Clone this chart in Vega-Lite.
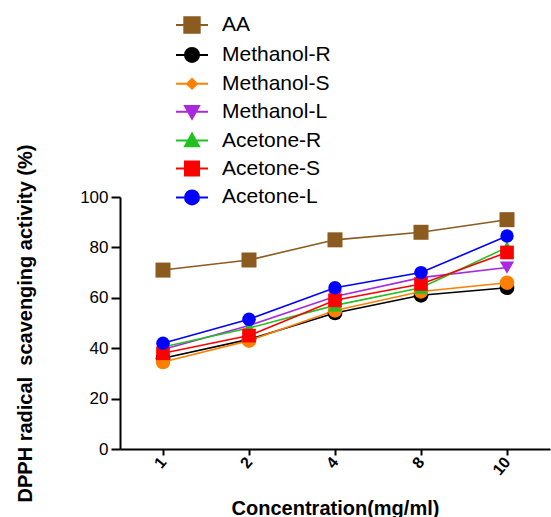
{
  "$schema": "https://vega.github.io/schema/vega-lite/v6.json",
  "width": 430,
  "height": 252,
  "autosize": "none",
  "padding": {"left": 120, "top": 197, "right": 1, "bottom": 68},
  "background": "white",
  "config": {
    "view": {"stroke": null},
    "font": "Liberation Sans",
    "axis": {
      "domainColor": "black", "domainWidth": 2, "tickColor": "black", "tickWidth": 2,
      "labelColor": "black", "titleColor": "black", "grid": false, "labelFont": "Liberation Sans", "titleFont": "Liberation Sans"
    },
    "legend": {"labelFont": "Liberation Sans"}
  },
  "data": {"values": [
    {"series": "AA", "conc": "1", "value": 71},
    {"series": "AA", "conc": "2", "value": 75},
    {"series": "AA", "conc": "4", "value": 83},
    {"series": "AA", "conc": "8", "value": 86},
    {"series": "AA", "conc": "10", "value": 91},
    {"series": "Methanol-R", "conc": "1", "value": 36},
    {"series": "Methanol-R", "conc": "2", "value": 43.5},
    {"series": "Methanol-R", "conc": "4", "value": 54},
    {"series": "Methanol-R", "conc": "8", "value": 61},
    {"series": "Methanol-R", "conc": "10", "value": 64},
    {"series": "Methanol-S", "conc": "1", "value": 34.5},
    {"series": "Methanol-S", "conc": "2", "value": 43},
    {"series": "Methanol-S", "conc": "4", "value": 55},
    {"series": "Methanol-S", "conc": "8", "value": 62.5},
    {"series": "Methanol-S", "conc": "10", "value": 66},
    {"series": "Methanol-L", "conc": "1", "value": 39.5},
    {"series": "Methanol-L", "conc": "2", "value": 49},
    {"series": "Methanol-L", "conc": "4", "value": 60.5},
    {"series": "Methanol-L", "conc": "8", "value": 68},
    {"series": "Methanol-L", "conc": "10", "value": 72},
    {"series": "Acetone-R", "conc": "1", "value": 40.5},
    {"series": "Acetone-R", "conc": "2", "value": 48},
    {"series": "Acetone-R", "conc": "4", "value": 57},
    {"series": "Acetone-R", "conc": "8", "value": 64},
    {"series": "Acetone-R", "conc": "10", "value": 80},
    {"series": "Acetone-S", "conc": "1", "value": 38},
    {"series": "Acetone-S", "conc": "2", "value": 45},
    {"series": "Acetone-S", "conc": "4", "value": 59},
    {"series": "Acetone-S", "conc": "8", "value": 65.5},
    {"series": "Acetone-S", "conc": "10", "value": 78},
    {"series": "Acetone-L", "conc": "1", "value": 42},
    {"series": "Acetone-L", "conc": "2", "value": 51.5},
    {"series": "Acetone-L", "conc": "4", "value": 64},
    {"series": "Acetone-L", "conc": "8", "value": 70},
    {"series": "Acetone-L", "conc": "10", "value": 84.5}
  ]},
  "encoding": {
    "x": {
      "field": "conc", "type": "ordinal",
      "scale": {"type": "point", "domain": ["1", "2", "4", "8", "10"], "padding": 0.5},
      "axis": {
        "title": "Concentration(mg/ml)", "titleFontSize": 20, "titleFontWeight": "bold",
        "titleX": 215, "titleY": 65, "titleBaseline": "alphabetic", "titleAlign": "center",
        "labelAngle": -50, "labelFontSize": 16, "labelFontWeight": "bold", "tickSize": 6, "labelPadding": 4
      }
    },
    "y": {
      "field": "value", "type": "quantitative",
      "scale": {"domain": [0, 100], "nice": false, "zero": true},
      "axis": {
        "title": "DPPH radical\u00a0 scavenging activity (%)", "titleFontSize": 20, "titleFontWeight": "bold",
        "titleAngle": -90, "titleX": -89, "titleY": 126, "titleBaseline": "alphabetic", "titleAlign": "center",
        "values": [0, 20, 40, 60, 80, 100], "labelFontSize": 17, "tickSize": 9, "labelPadding": 3
      }
    }
  },
  "layer": [
    {
      "mark": {"type": "line", "strokeWidth": 1.6},
      "encoding": {
        "color": {
          "field": "series", "type": "nominal", "legend": null,
          "scale": {
            "domain": ["AA", "Methanol-R", "Methanol-S", "Methanol-L", "Acetone-R", "Acetone-S", "Acetone-L"],
            "range": ["#8c5b1f", "#000000", "#ff8000", "#a829e0", "#22c022", "#ff0000", "#0000ff"]
          }
        }
      }
    },
    {
      "mark": {"type": "point", "filled": true, "opacity": 1},
      "encoding": {
        "fill": {
          "field": "series", "type": "nominal", "legend": null,
          "scale": {
            "domain": ["AA", "Methanol-R", "Methanol-S", "Methanol-L", "Acetone-R", "Acetone-S", "Acetone-L"],
            "range": ["#8c5b1f", "#000000", "#ff8000", "#a829e0", "#22c022", "#ff0000", "#0000ff"]
          }
        },
        "shape": {
          "field": "series", "type": "nominal", "legend": null,
          "scale": {
            "domain": ["AA", "Methanol-R", "Methanol-S", "Methanol-L", "Acetone-R", "Acetone-S", "Acetone-L"],
            "range": ["square", "circle", "circle", "triangle-down", "triangle-up", "square", "circle"]
          }
        },
        "size": {
          "field": "series", "type": "nominal", "legend": null,
          "scale": {
            "domain": ["AA", "Methanol-R", "Methanol-S", "Methanol-L", "Acetone-R", "Acetone-S", "Acetone-L"],
            "range": [225, 180, 170, 170, 170, 150, 180]
          }
        }
      }
    },
    {
      "transform": [{"filter": "false"}],
      "mark": {"type": "point", "filled": true, "strokeWidth": 2, "opacity": 1},
      "encoding": {
        "fill": {
          "field": "series", "type": "nominal",
          "scale": {
            "domain": ["AA", "Methanol-R", "Methanol-S", "Methanol-L", "Acetone-R", "Acetone-S", "Acetone-L"],
            "range": ["#8c5b1f", "#000000", "#ff8000", "#a829e0", "#22c022", "#ff0000", "#0000ff"]
          },
          "legend": {
            "title": null, "orient": "none", "legendX": 57, "legendY": -187, "padding": 0,
            "labelFontSize": 21, "labelColor": "black", "labelOffset": 15, "rowPadding": 2.9,
            "symbolSize": 784, "symbolStrokeWidth": 2, "symbolOpacity": 1, "labelLimit": 300
          }
        },
        "stroke": {
          "field": "series", "type": "nominal",
          "scale": {
            "domain": ["AA", "Methanol-R", "Methanol-S", "Methanol-L", "Acetone-R", "Acetone-S", "Acetone-L"],
            "range": ["#8c5b1f", "#000000", "#ff8000", "#a829e0", "#22c022", "#ff0000", "#0000ff"]
          },
          "legend": {
            "title": null, "orient": "none", "legendX": 57, "legendY": -187, "padding": 0,
            "labelFontSize": 21, "labelColor": "black", "labelOffset": 15, "rowPadding": 2.9,
            "symbolSize": 784, "symbolStrokeWidth": 2, "symbolOpacity": 1, "labelLimit": 300
          }
        },
        "shape": {
          "field": "series", "type": "nominal",
          "scale": {
            "domain": ["AA", "Methanol-R", "Methanol-S", "Methanol-L", "Acetone-R", "Acetone-S", "Acetone-L"],
            "range": [
              "M-1.143,0H1.143M-0.55,-0.55H0.55V0.55H-0.55Z",
              "M-1.143,0H1.143M0.5,0A0.5,0.5 0 1,1 -0.5,0A0.5,0.5 0 1,1 0.5,0Z",
              "M-1.143,0H1.143M0,-0.35L0.35,0L0,0.35L-0.35,0Z",
              "M-1.143,0H1.143M0,0.5L0.5,-0.4L-0.5,-0.4Z",
              "M-1.143,0H1.143M0,-0.5L0.5,0.4L-0.5,0.4Z",
              "M-1.143,0H1.143M-0.5,-0.5H0.5V0.5H-0.5Z",
              "M-1.143,0H1.143M0.5,0A0.5,0.5 0 1,1 -0.5,0A0.5,0.5 0 1,1 0.5,0Z"
            ]
          },
          "legend": {
            "title": null, "orient": "none", "legendX": 57, "legendY": -187, "padding": 0,
            "labelFontSize": 21, "labelColor": "black", "labelOffset": 15, "rowPadding": 2.9,
            "symbolSize": 784, "symbolStrokeWidth": 2, "symbolOpacity": 1, "labelLimit": 300
          }
        }
      }
    }
  ],
  "resolve": {"scale": {"shape": "independent", "fill": "independent", "color": "independent", "stroke": "independent"}}
}
